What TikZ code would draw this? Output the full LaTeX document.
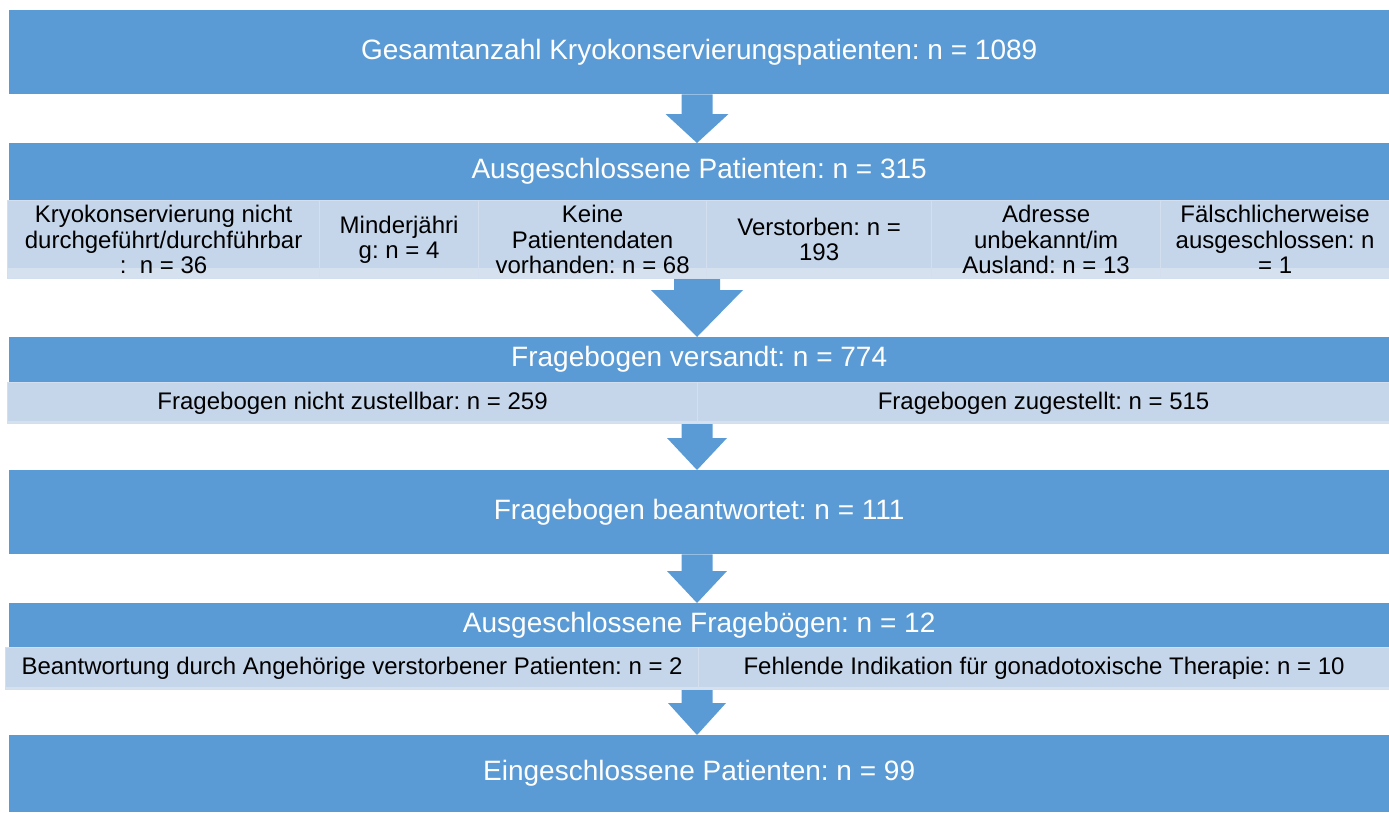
\documentclass[tikz,border=0pt]{standalone}
\usepackage{fontspec}
\setmainfont{Liberation Sans}
\usetikzlibrary{calc}
\frenchspacing
\definecolor{mblue}{HTML}{5B9BD5}
\definecolor{lblue}{HTML}{C5D6EB}
\definecolor{sblue}{HTML}{D6E1F0}
\definecolor{edgec}{HTML}{D3DFEF}
\tikzset{
  mainbox/.style={fill=mblue, text=white, inner sep=0pt, minimum width=1380pt,
    font=\fontsize{28}{32}\selectfont, anchor=north west},
  subbox/.style={fill=lblue, draw=edgec, line width=1.2pt, text=black, inner sep=0pt,
    align=center, font=\fontsize{24}{25.5}\selectfont, anchor=north west},
  strip/.style={path picture={\fill[sblue] (path picture bounding box.south west)
    rectangle ([yshift=#1]path picture bounding box.south east);}},
  arr/.style={fill=mblue}
}
% block arrow: from, to, shaft half width, head half width, head length
\newcommand\blockarrow[5]{%
  \fill[arr] let \p1=(#1), \p2=(#2) in
    (\x1-#3,\y1) -- (\x1+#3,\y1) -- (\x1+#3,\y2+#5) -- (\x1+#4,\y2+#5) --
    (\x2,\y2) -- (\x1-#4,\y2+#5) -- (\x1-#3,\y2+#5) -- cycle;}
\begin{document}
\begin{tikzpicture}[x=1pt,y=-1pt]
\useasboundingbox (0,0) rectangle (1389,812);
\coordinate (ax) at (697,0);

% row 1
\node[mainbox, minimum height=84pt] (b1) at (9,10)
  {\raisebox{-2.5pt}{Gesamtanzahl Kryokonservierungspatienten: n = 1089}};

% row 2
\node[mainbox, minimum height=57pt] (b2) at (9,143)
  {\raisebox{-5pt}{Ausgeschlossene Patienten: n = 315}};
\node[subbox, strip=11pt, minimum width=312pt, minimum height=78pt] (s21) at (7,200)
  {Kryokonservierung nicht\\durchgeführt/durchführbar\\:~~n = 36};
\node[subbox, strip=11pt, minimum width=159pt, minimum height=78pt] (s22) at (319,200)
  {Minderjähri\\g: n = 4};
\node[subbox, strip=11pt, minimum width=228pt, minimum height=78pt] (s23) at (478,200)
  {Keine\\Patientendaten\\vorhanden: n = 68};
\node[subbox, strip=11pt, minimum width=225pt, minimum height=78pt] (s24) at (706,200)
  {Verstorben: n =\\193};
\node[subbox, strip=11pt, minimum width=229pt, minimum height=78pt] (s25) at (931,200)
  {Adresse\\unbekannt/im\\Ausland: n = 13};
\node[subbox, strip=11pt, minimum width=229pt, minimum height=78pt] (s26) at (1160,200)
  {Fälschlicherweise\\ausgeschlossen: n\\= 1};

% row 3
\node[mainbox, minimum height=45pt] (b3) at (9,337)
  {Fragebogen versandt: n = 774};
\node[subbox, strip=3pt, minimum width=690pt, minimum height=41pt] (s31) at (7,382)
  {Fragebogen nicht zustellbar: n = 259};
\node[subbox, strip=3pt, minimum width=692pt, minimum height=41pt] (s32) at (697,382)
  {Fragebogen zugestellt: n = 515};

% row 4
\node[mainbox, minimum height=84pt] (b4) at (9,470)
  {\raisebox{-2.5pt}{Fragebogen beantwortet: n = 111}};

% row 5
\node[mainbox, minimum height=44pt] (b5) at (9,603)
  {Ausgeschlossene Fragebögen: n = 12};
\node[subbox, strip=3pt, minimum width=693pt, minimum height=42pt] (s51) at (5,647)
  {Beantwortung durch Angehörige verstorbener Patienten: n = 2};
\node[subbox, strip=3pt, minimum width=691pt, minimum height=42pt] (s52) at (698,647)
  {Fehlende Indikation für gonadotoxische Therapie: n = 10};

% row 6
\node[mainbox, minimum height=77pt] (b6) at (9,735)
  {\raisebox{-6pt}{Eingeschlossene Patienten: n = 99}};

% arrows
\blockarrow{b1.south -| ax}{b2.north -| ax}{15.5pt}{31.5pt}{29pt}
\blockarrow{s23.south -| ax}{b3.north -| ax}{23pt}{46pt}{47pt}
\blockarrow{s31.south -| ax}{b4.north -| ax}{15.5pt}{30pt}{32pt}
\blockarrow{b4.south -| ax}{b5.north -| ax}{15.5pt}{30pt}{32pt}
\blockarrow{s51.south -| ax}{b6.north -| ax}{15.5pt}{29pt}{32pt}
\end{tikzpicture}
\end{document}
